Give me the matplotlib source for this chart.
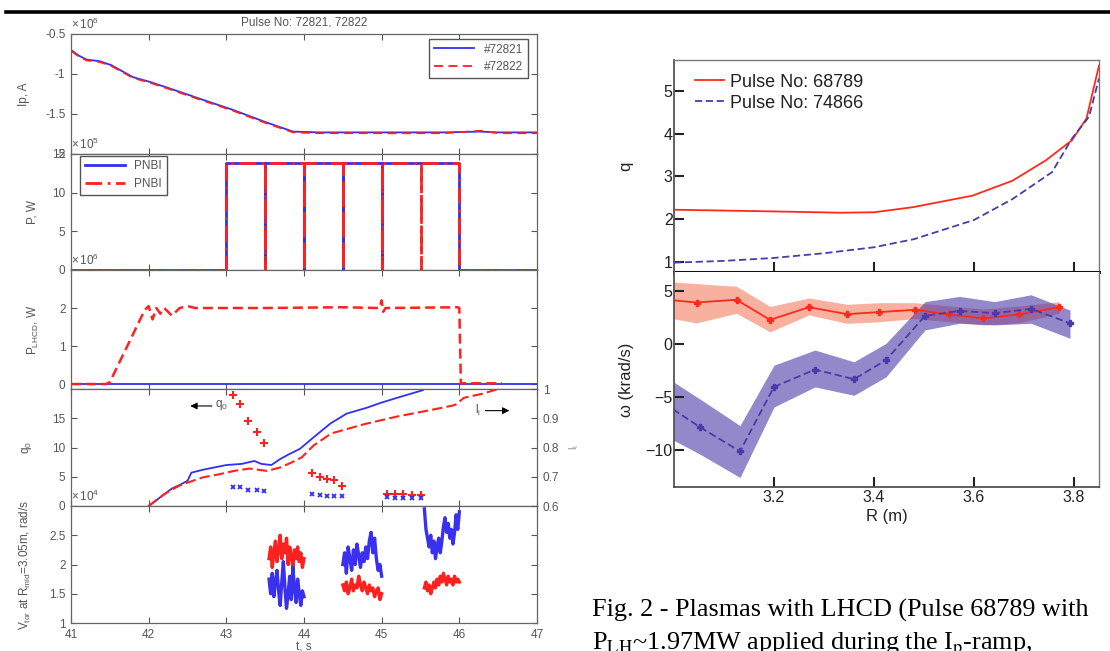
import numpy as np
import matplotlib.pyplot as plt
from matplotlib.lines import Line2D

plt.rcParams['font.family'] = ['Liberation Sans', 'DejaVu Sans']
plt.rcParams['mathtext.fontset'] = 'custom'
plt.rcParams['mathtext.rm'] = 'Liberation Sans'
plt.rcParams['mathtext.it'] = 'Liberation Sans'

# ---------------- left figure: pulses 72821 / 72822 ----------------
ip_t = [41.0, 41.1, 41.2, 41.37, 41.52, 41.65, 41.8, 42.02, 42.3, 42.66, 43.09, 43.5, 43.86, 44.2, 45.0, 45.8, 46.27, 46.5, 47.0]
ip_blue = [-0.7, -0.77, -0.82, -0.84, -0.89, -0.96, -1.04, -1.1, -1.19, -1.31, -1.45, -1.6, -1.72, -1.73, -1.73, -1.73, -1.72, -1.73, -1.73]
ip_red = [-0.71, -0.78, -0.83, -0.85, -0.9, -0.97, -1.05, -1.11, -1.2, -1.32, -1.46, -1.61, -1.73, -1.74, -1.74, -1.74, -1.71, -1.74, -1.74]

nbi_t_blue = [41.0, 43.0, 43.0, 43.5, 43.5, 43.5, 44.0, 44.0, 44.0, 44.5, 44.5, 44.5, 45.0, 45.0, 45.0, 46.0, 46.0, 47.0]
nbi_blue = [0, 0, 13.8, 13.8, 0, 13.8, 13.8, 0, 13.8, 13.8, 0, 13.8, 13.8, 0, 13.8, 13.8, 0, 0]
nbi_t_red = [41.0, 43.0, 43.0, 43.5, 43.5, 43.5, 44.0, 44.0, 44.0, 44.5, 44.5, 44.5, 45.0, 45.0, 45.0, 45.5, 45.5, 45.5, 46.0, 46.0, 47.0]
nbi_red = [0, 0, 13.8, 13.8, 0, 13.8, 13.8, 0, 13.8, 13.8, 0, 13.8, 13.8, 0, 13.8, 13.8, 0, 13.8, 13.8, 0, 0]

lh_t = [41.0, 41.45, 41.5, 41.95, 42.0, 42.05, 42.1, 42.15, 42.2, 42.3, 42.4, 42.5, 42.6, 43.5, 44.5, 44.97, 45.0, 45.02, 45.05, 45.98, 46.0, 46.02, 46.55]
lh_red = [0.0, 0.0, 0.05, 1.95, 2.05, 1.7, 2.0, 1.85, 2.0, 1.8, 2.0, 2.05, 2.0, 2.0, 2.02, 2.0, 2.2, 1.9, 2.0, 2.02, 2.0, 0.02, 0.02]
lh_blue_t = [41.0, 47.0]
lh_blue = [0.0, 0.0]

q_t_blue = [42.0, 42.1, 42.2, 42.3, 42.4, 42.5, 42.55, 42.7, 42.85, 43.0, 43.2, 43.36, 43.45, 43.58, 43.69, 43.8, 43.95, 44.12, 44.34, 44.55, 44.81, 44.98, 45.2, 45.53]
q_blue = [0.0, 1.0, 2.0, 3.0, 3.6, 4.3, 5.7, 6.2, 6.6, 7.0, 7.2, 7.7, 7.2, 7.0, 8.0, 8.8, 9.8, 11.7, 14.1, 15.8, 16.8, 17.6, 18.5, 19.8]
q_t_red = [42.0, 42.1, 42.2, 42.3, 42.4, 42.5, 42.7, 42.9, 43.1, 43.3, 43.52, 43.7, 43.85, 43.97, 44.12, 44.35, 44.78, 45.2, 45.63, 45.89, 45.95, 46.06, 46.3, 46.5]
q_red = [0.0, 1.0, 2.0, 2.8, 3.5, 4.0, 4.9, 5.4, 6.0, 6.4, 6.0, 6.6, 7.5, 8.3, 10.3, 12.4, 14.0, 15.3, 16.4, 17.1, 17.3, 18.5, 19.2, 20.0]

q0_t = [43.09, 43.18, 43.28, 43.39, 43.48, 44.10, 44.20, 44.29, 44.38, 44.49, 45.07, 45.17, 45.28, 45.39, 45.50]
q0_red = [19.0, 17.5, 14.6, 12.7, 10.8, 5.6, 4.9, 4.7, 4.4, 3.4, 2.0, 2.0, 2.0, 1.9, 1.9]
q0_blue = [3.2, 3.2, 2.7, 2.7, 2.5, 2.0, 1.9, 1.7, 1.7, 1.7, 1.5, 1.4, 1.4, 1.4, 1.4]

# toroidal rotation segments (start, end of each CX window)
seg_span = [(43.55, 44.0), (44.5, 45.0), (45.55, 46.0)]
vt_red = [
    [2.1, 2.3, 1.95, 2.2, 2.4, 2.05, 2.25, 2.5, 2.1, 2.35, 2.2, 2.45, 2.0, 2.3, 2.15, 1.95, 2.25, 2.1, 2.3, 2.05, 2.2, 1.95, 2.1],
    [1.65, 1.55, 1.7, 1.5, 1.6, 1.75, 1.55, 1.65, 1.6, 1.8, 1.65, 1.55, 1.7, 1.6, 1.5, 1.65, 1.55, 1.6, 1.45, 1.55, 1.6, 1.4, 1.5],
    [1.6, 1.7, 1.55, 1.65, 1.5, 1.6, 1.7, 1.6, 1.75, 1.65, 1.8, 1.7, 1.85, 1.75, 1.65, 1.8, 1.7, 1.75, 1.65, 1.8, 1.7, 1.75, 1.7],
]
vt_blue = [
    [1.75, 1.5, 1.85, 1.45, 1.7, 1.9, 1.55, 1.3, 1.7, 2.05, 1.6, 1.25, 1.5, 1.8, 1.4, 1.95, 1.6, 1.35, 1.75, 1.5, 1.3, 1.55, 1.45],
    [2.0, 2.2, 1.85, 2.3, 2.1, 1.9, 2.25, 2.0, 2.35, 2.15, 1.95, 2.2, 2.05, 2.3, 2.1, 2.4, 2.55, 2.2, 2.45, 2.1, 1.9, 2.0, 1.8],
    [2.95, 2.6, 2.45, 2.3, 2.5, 2.2, 2.4, 2.1, 2.3, 2.45, 2.2, 2.4, 2.65, 2.8, 2.55, 2.7, 2.45, 2.6, 2.35, 2.55, 2.85, 2.6, 2.9],
]

# ---------------- right figure: q and omega profiles ----------------
r_q = [3.0, 3.1, 3.2, 3.333, 3.4, 3.478, 3.597, 3.677, 3.744, 3.796, 3.825, 3.85]
q_68789 = [2.22, 2.2, 2.18, 2.15, 2.16, 2.28, 2.55, 2.9, 3.38, 3.85, 4.36, 5.6]
r_q2 = [3.0, 3.1, 3.2, 3.3, 3.4, 3.48, 3.6, 3.677, 3.756, 3.796, 3.83, 3.85]
q_74866 = [0.98, 1.02, 1.09, 1.2, 1.34, 1.53, 1.98, 2.47, 3.1, 3.89, 4.4, 5.3]

r_red = [2.96, 3.045, 3.125, 3.192, 3.27, 3.346, 3.409, 3.482, 3.55, 3.618, 3.69, 3.77]
w_red = [4.3, 3.92, 4.18, 2.28, 3.48, 2.82, 3.01, 3.23, 2.79, 2.41, 2.79, 3.48]
w_red_hi = [6.0, 5.7, 5.45, 3.55, 4.35, 3.75, 3.9, 3.9, 3.6, 3.3, 3.6, 4.0]
w_red_lo = [2.7, 2.0, 2.9, 1.15, 2.75, 1.95, 2.1, 2.4, 2.1, 1.8, 2.0, 2.9]

r_blue = [2.98, 3.052, 3.132, 3.2, 3.282, 3.36, 3.424, 3.502, 3.571, 3.641, 3.714, 3.792]
w_blue = [-5.6, -7.85, -10.13, -4.05, -2.41, -3.32, -1.52, 2.66, 3.13, 2.91, 3.32, 1.96]
w_blue_hi = [-3.0, -5.2, -7.7, -2.0, -0.57, -1.68, 0.06, 4.0, 4.5, 4.0, 4.65, 3.2]
w_blue_lo = [-8.6, -10.4, -12.6, -5.95, -4.05, -4.84, -3.1, 1.33, 1.96, 1.8, 1.96, 0.54]

W, H = 1110, 651
def box(x0, y0, x1, y1):
    return [x0 / W, 1 - y1 / H, (x1 - x0) / W, (y1 - y0) / H]

fig = plt.figure(figsize=(11.1, 6.51), dpi=100)
fig.add_artist(Line2D([6 / W, 1.0], [1 - 12 / H, 1 - 12 / H], color='k', lw=2.6))

gray = '#555555'
edges = [34, 154, 270, 389, 506, 623]
axs = [fig.add_axes(box(71, edges[i], 537, edges[i + 1])) for i in range(5)]
for ax in axs:
    ax.set_xlim(41, 47)
    ax.set_xticks(range(41, 48))
    ax.tick_params(direction='in', top=True, right=True, length=4, width=0.8,
                   colors=gray, labelsize=8.5, pad=4)
    for s in ax.spines.values():
        s.set_color('#666666')
        s.set_linewidth(0.9)
    ax.tick_params(labelbottom=False)
axs[4].tick_params(labelbottom=True)

lab = dict(fontsize=8.5, color=gray)

# panel 1 - plasma current
a = axs[0]
a.plot(ip_t, ip_blue, color='#3030f0', lw=1.3, label='#72821')
a.plot(ip_t, ip_red, color='#ff2020', lw=1.3, ls=(0, (5, 3)), label='#72822')
a.set_ylim(-2, -0.5)
a.set_yticks([-0.5, -1, -1.5, -2])
a.set_yticklabels(['-0.5', '-1', '-1.5', '-2'])
a.set_ylabel('Ip, A', **lab)
a.yaxis.set_label_coords(-0.088, 0.5)
a.set_title('Pulse No: 72821, 72822', fontsize=8.5, color=gray, pad=6)
a.legend(loc='upper right', bbox_to_anchor=(0.98, 0.96), fontsize=8.5, handlelength=3.4,
         fancybox=False, edgecolor=gray, framealpha=1, borderaxespad=0, labelcolor=gray)
a.text(0, 1.02, r'$\times\,10^6$', transform=a.transAxes, fontsize=8.5, color=gray, va='bottom')

# panel 2 - NBI power
a = axs[1]
a.plot(nbi_t_blue, nbi_blue, color='#3030f0', lw=2, label='PNBI')
a.plot(nbi_t_red, nbi_red, color='#ff2020', lw=2, ls=(0, (6, 2, 1, 2)), label='PNBI')
a.set_ylim(0, 15)
a.set_yticks([0, 5, 10, 15])
a.set_ylabel('P, W', **lab)
a.yaxis.set_label_coords(-0.07, 0.5)
a.legend(loc='upper left', bbox_to_anchor=(0.019, 0.985), fontsize=8.5, handlelength=3.4,
         fancybox=False, edgecolor=gray, framealpha=1, borderaxespad=0, labelcolor=gray)
a.text(0, 1.02, r'$\times\,10^5$', transform=a.transAxes, fontsize=8.5, color=gray, va='bottom')

# panel 3 - LHCD power
a = axs[2]
a.plot(lh_blue_t, lh_blue, color='#3030f0', lw=1.3)
a.plot(lh_t, lh_red, color='#ff2020', lw=1.8, ls=(0, (4, 2)))
a.set_ylim(-0.13, 3.0)
a.set_yticks([0, 1, 2])
a.set_ylabel('P$_{LHCD}$, W', **lab)
a.yaxis.set_label_coords(-0.065, 0.5)
a.text(0, 1.02, r'$\times\,10^6$', transform=a.transAxes, fontsize=8.5, color=gray, va='bottom')

# panel 4 - q0 and li
a = axs[3]
a.plot(q_t_blue, q_blue, color='#3030f0', lw=1.3)
a.plot(q_t_red, q_red, color='#ff2020', lw=1.5, ls=(0, (5, 2)))
a.plot(q0_t, q0_red, ls='none', marker='+', ms=6, mew=1.5, color='#ff2020')
a.plot(q0_t, q0_blue, ls='none', marker='x', ms=3.5, mew=1.3, color='#3030f0')
a.set_ylim(0, 20)
a.set_yticks([0, 5, 10, 15])
a.tick_params(right=False)
a.set_ylabel('q$_0$', **lab)
a.yaxis.set_label_coords(-0.08, 0.5)
a.annotate('', xy=(42.5, 17.1), xytext=(42.85, 17.1),
           arrowprops=dict(arrowstyle='-|>', color='k', lw=0.8, mutation_scale=10))
a.text(42.86, 17.3, 'q$_0$', fontsize=8.5, color=gray, va='center')
a.text(46.2, 16.3, 'l$_i$', fontsize=8.5, color=gray, va='center')
a.annotate('', xy=(46.68, 16.3), xytext=(46.3, 16.3),
           arrowprops=dict(arrowstyle='-|>', color='k', lw=0.8, mutation_scale=10))
a2 = a.twinx()
a2.set_ylim(0.6, 1.0)
a2.set_yticks([0.6, 0.7, 0.8, 0.9, 1.0])
a2.set_yticklabels(['0.6', '0.7', '0.8', '0.9', '1'])
a2.tick_params(direction='in', length=4, width=0.8, colors=gray, labelsize=8.5, pad=4)
for s in a2.spines.values():
    s.set_visible(False)
a2.set_ylabel('l$_i$', fontsize=8, color='#999999', labelpad=6)

# panel 5 - toroidal rotation
a = axs[4]
for (t0, t1), vr, vb in zip(seg_span, vt_red, vt_blue):
    a.plot(np.linspace(t0, t1, len(vr)), vr, color='#ff2020', lw=2.4)
    a.plot(np.linspace(t0, t1, len(vb)), vb, color='#3a30f0', lw=2.4)
a.set_ylim(1, 3)
a.set_yticks([1, 1.5, 2, 2.5])
a.set_yticklabels(['1', '1.5', '2', '2.5'])
a.set_ylabel('V$_{tor}$ at R$_{mid}$=3.05m, rad/s', **lab)
a.yaxis.set_label_coords(-0.082, 0.5)
a.set_xlabel('t, s', fontsize=8.5, color=gray, labelpad=1)
a.text(0, 1.02, r'$\times\,10^4$', transform=a.transAxes, fontsize=8.5, color=gray, va='bottom')

# ---------------- right figure ----------------
red = '#ff2a1a'
blue = '#4b3aa8'
dark = '#222222'
axq = fig.add_axes(box(674, 60, 1099, 272))
axw = fig.add_axes(box(674, 272, 1099, 487))
for ax in (axq, axw):
    ax.set_xlim(3.0, 3.85)
    ax.set_xticks([3.2, 3.4, 3.6, 3.8])
    ax.tick_params(direction='in', length=7, width=1.5, colors=dark, labelsize=11.5, pad=2)
    ax.tick_params(axis='y', pad=1)
    for s in ax.spines.values():
        s.set_color('#777777')
        s.set_linewidth(1.0)
    ax.spines['left'].set_linewidth(1.3)
    ax.spines['left'].set_color('#555555')

axq.plot(r_q, q_68789, color=red, lw=1.3, label='Pulse No: 68789')
axq.plot(r_q2, q_74866, color=blue, lw=1.3, ls=(0, (4, 2)), label='Pulse No: 74866')
axq.set_ylim(0.76, 5.73)
axq.set_yticks([1, 2, 3, 4, 5])
axq.tick_params(labelbottom=False)
axq.spines['bottom'].set_color('#111111')
axq.spines['bottom'].set_linewidth(2.2)
axq.set_ylabel('q', fontsize=12, color=dark)
axq.yaxis.set_label_coords(-0.095, 0.5)
axq.legend(loc='upper left', bbox_to_anchor=(0.05, 0.935), frameon=False, fontsize=13,
           handlelength=1.6, handletextpad=0.3, labelspacing=0.22, borderpad=0, borderaxespad=0,
           labelcolor=dark)

axw.fill_between(r_red, w_red_lo, w_red_hi, color='#f47050', alpha=0.55, lw=0)
axw.fill_between(r_blue, w_blue_lo, w_blue_hi, color=blue, alpha=0.6, lw=0)
axw.plot(r_red, w_red, color=red, lw=1.3, marker='P', ms=5)
axw.plot(r_blue, w_blue, color=blue, lw=1.3, ls=(0, (4, 2)), marker='P', ms=5)
axw.set_ylim(-13.5, 6.8)
axw.set_yticks([5, 0, -5, -10])
axw.spines['top'].set_visible(False)
axw.spines['bottom'].set_color('#444444')
axw.spines['bottom'].set_linewidth(1.2)
axw.set_ylabel('ω (krad/s)', fontsize=12, color=dark)
axw.yaxis.set_label_coords(-0.095, 0.5)
axw.set_xlabel('R (m)', fontsize=12, color=dark, labelpad=3)

cap = dict(fontsize=18.8, family='Liberation Serif', color='k')
fig.text(592 / W, 1 - 617 / H, 'Fig. 2 - Plasmas with LHCD (Pulse 68789 with', va='baseline', **cap)
fig.text(592 / W, 1 - 649 / H, r'P$_{\rm LH}$~1.97MW applied during the I$_{\rm p}$-ramp,',
         va='baseline', math_fontfamily='stix', **cap)

fig.savefig('out.png', dpi=100)
